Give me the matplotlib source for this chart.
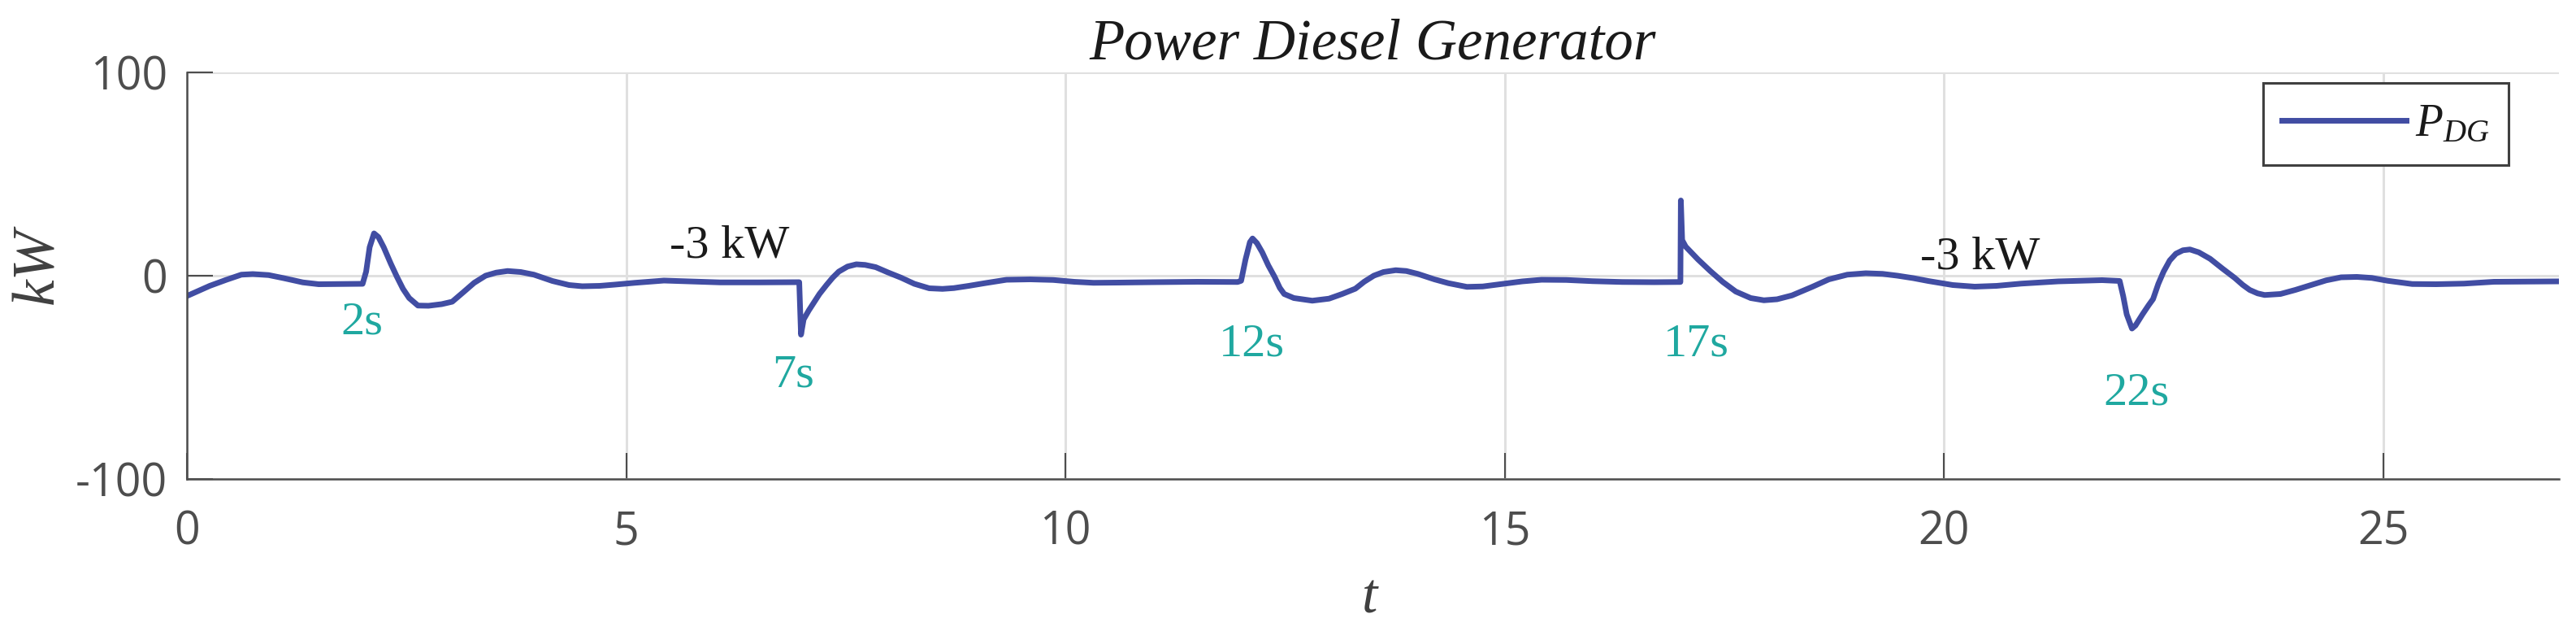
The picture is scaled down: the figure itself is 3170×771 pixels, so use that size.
import matplotlib
matplotlib.use("Agg")
import matplotlib.pyplot as plt
import numpy as np

# ---------------- data ----------------
t_data = [0.00, 0.26, 0.45, 0.62, 0.75, 0.93, 1.10, 1.32, 1.50, 1.80, 2.00, 2.04, 2.08, 2.13,
          2.18, 2.24, 2.32, 2.39, 2.46, 2.53, 2.63, 2.75, 2.90, 3.02, 3.15, 3.27, 3.40, 3.52,
          3.65, 3.80, 3.95, 4.16, 4.35, 4.50, 4.70, 4.87, 5.10, 5.43, 5.80, 6.07, 6.50, 6.97,
          6.99, 7.02, 7.08, 7.13, 7.20, 7.28, 7.35, 7.42, 7.52, 7.62, 7.72, 7.84, 7.98, 8.13,
          8.28, 8.45, 8.60, 8.73, 8.90, 9.08, 9.33, 9.60, 9.86, 10.10, 10.32, 10.60, 11.00,
          11.50, 11.96, 12.00, 12.05, 12.10, 12.13, 12.18, 12.24, 12.31, 12.38, 12.44, 12.49,
          12.60, 12.81, 13.00, 13.15, 13.30, 13.40, 13.51, 13.62, 13.76, 13.88, 14.01, 14.20,
          14.36, 14.57, 14.75, 15.00, 15.20, 15.42, 15.70, 16.00, 16.34, 16.70, 17.00, 17.005,
          17.02, 17.06, 17.20, 17.34, 17.48, 17.63, 17.80, 17.95, 18.10, 18.27, 18.50, 18.69,
          18.90, 19.11, 19.30, 19.47, 19.65, 19.82, 20.10, 20.35, 20.60, 20.88, 21.30, 21.80,
          22.00, 22.04, 22.08, 22.14, 22.18, 22.26, 22.33, 22.38, 22.44, 22.50, 22.57, 22.64,
          22.72, 22.80, 22.90, 23.03, 23.17, 23.31, 23.40, 23.48, 23.57, 23.65, 23.83, 24.00,
          24.18, 24.35, 24.52, 24.70, 24.87, 25.05, 25.33, 25.60, 25.92, 26.26, 26.60, 27.00]
p_dg = [-10.0, -5.0, -2.0, 0.5, 0.8, 0.3, -1.2, -3.3, -4.2, -4.1, -4.0, 2.0, 14.0, 20.8,
        19.0, 14.0, 6.0, -0.5, -6.5, -11.0, -14.7, -14.8, -14.0, -12.8, -8.0, -3.5, 0.0, 1.5,
        2.3, 1.8, 0.5, -2.6, -4.6, -5.2, -5.0, -4.4, -3.5, -2.4, -2.9, -3.3, -3.3, -3.2,
        -29.0, -21.5, -17.0, -13.7, -9.0, -4.6, -1.0, 2.0, 4.5, 5.6, 5.3, 4.2, 1.6, -1.0,
        -4.0, -6.2, -6.5, -6.1, -5.0, -3.7, -2.0, -1.8, -2.1, -3.0, -3.5, -3.4, -3.2,
        -3.0, -3.1, -2.5, 8.0, 16.5, 18.3, 16.0, 11.5, 5.0, -0.5, -6.0, -9.0,
        -11.0, -12.3, -11.3, -9.0, -6.4, -3.0, 0.0, 1.8, 2.7, 2.3, 0.9, -1.8,
        -3.7, -5.5, -5.3, -3.9, -2.8, -2.0, -2.1, -2.7, -3.1, -3.2, -3.1, 37.0,
        17.5, 14.3, 8.0, 2.3, -3.0, -7.8, -11.0, -12.1, -11.6, -9.7, -5.5, -1.8,
        0.5, 1.2, 0.9, 0.0, -1.2, -2.6, -4.6, -5.4, -5.0, -3.9, -2.8, -2.2,
        -2.6, -10.0, -19.0, -26.0, -24.5, -19.0, -14.5, -11.5, -4.0, 2.0, 7.5, 10.8,
        12.5, 12.9, 11.5, 8.3, 3.5, -1.1, -4.5, -7.0, -8.7, -9.5, -9.0, -7.0,
        -4.6, -2.3, -0.8, -0.6, -1.1, -2.5, -4.1, -4.2, -3.9, -3.0, -2.9, -2.8]

x_ticks = [0, 5, 10, 15, 20, 25]
y_ticks = [-100, 0, 100]
event_labels = ["2s", "7s", "12s", "17s", "22s"]
event_x = [1.75, 6.66, 11.75, 16.81, 21.81]
event_y = [-28.8, -54.8, -39.6, -39.6, -63.6]
level_labels = ["-3 kW", "-3 kW"]
level_x = [5.49, 19.73]
level_y = [8.8, 3.2]

# ---------------- style ----------------
plt.rcParams['mathtext.fontset'] = 'custom'
plt.rcParams['mathtext.it'] = 'Liberation Serif:italic'
plt.rcParams['mathtext.rm'] = 'Liberation Serif'
plt.rcParams['mathtext.cal'] = 'Liberation Serif:italic'
plt.rcParams['axes.unicode_minus'] = False

W, H, DPI = 3170, 771, 100
fig = plt.figure(figsize=(W / DPI, H / DPI), dpi=DPI)
ax = fig.add_axes([230 / W, 1 - 589 / H, (3149 - 230) / W, (589 - 89) / H])

line_color = '#414DA3'
axis_color = '#4D4D4D'
teal = '#1FA8A0'

ax.plot(t_data, p_dg, color=line_color, lw=5.0, solid_joinstyle='round',
        label=r'$P_{DG}$', zorder=3)

ax.set_xlim(0, 27)
ax.set_ylim(-100, 100)
ax.set_xticks(x_ticks)
ax.set_yticks(y_ticks)
ax.grid(True, color='#E0E0E0', lw=2.2, zorder=0)
ax.set_axisbelow(True)

for s in ['top', 'right']:
    ax.spines[s].set_visible(False)
for s in ['left', 'bottom']:
    ax.spines[s].set_color(axis_color)
    ax.spines[s].set_linewidth(1.8)
    ax.spines[s].set_zorder(4)

ax.tick_params(axis='both', direction='in', length=23, width=1.5, color=axis_color,
               labelcolor=axis_color, labelsize=40)
ax.tick_params(axis='x', pad=27)
ax.tick_params(axis='y', pad=17)
for lab in ax.get_xticklabels() + ax.get_yticklabels():
    lab.set_fontfamily('Open Sans')

ax.set_title('Power Diesel Generator', fontfamily='Liberation Serif', fontstyle='italic',
             fontsize=51, color='#1A1A1A', pad=11.5)

fig.text(48 / W, 1 - 327 / H, 'kW', fontfamily='Liberation Serif', fontstyle='italic',
         fontsize=53, color='#404040', rotation=90, ha='center', va='center')
fig.text(1686 / W, 1 - 753 / H, 't', fontfamily='Liberation Serif', fontstyle='italic',
         fontsize=50, color='#404040', ha='center', va='baseline')

for lab, x, y in zip(level_labels, level_x, level_y):
    ax.text(x, y, lab, fontfamily='Liberation Serif', fontsize=42, color='#1A1A1A',
            ha='left', va='baseline', zorder=5)
for lab, x, y in zip(event_labels, event_x, event_y):
    ax.text(x, y, lab, fontfamily='Liberation Serif', fontsize=42, color=teal,
            ha='left', va='baseline', zorder=5)

leg = ax.legend(loc='upper right', bbox_to_anchor=((3087 - 230) / 2919, 1 - 13 / 500),
                borderaxespad=0, fontsize=40, handlelength=2.75, handletextpad=0.2,
                borderpad=0.42, fancybox=False, framealpha=1, edgecolor='#404040')
leg.get_frame().set_linewidth(2.2)
for txt in leg.get_texts():
    txt.set_color('#1A1A1A')

fig.savefig('out.png', dpi=DPI, facecolor='white')
